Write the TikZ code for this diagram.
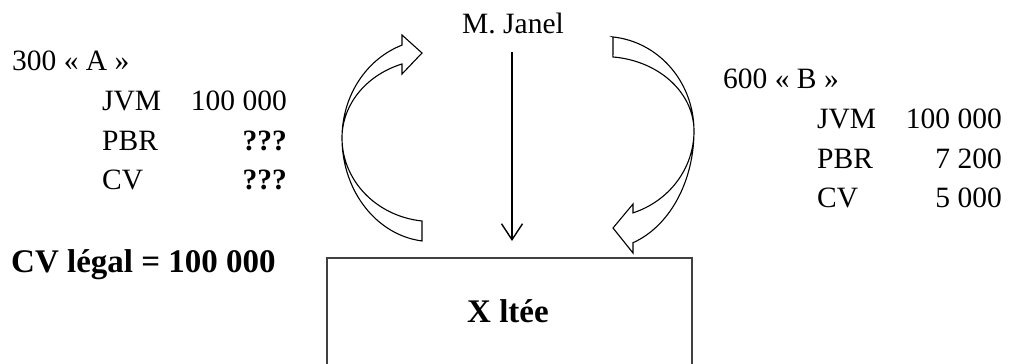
\documentclass[tikz,border=0pt]{standalone}
\usepackage{fontspec}
\setmainfont{Liberation Serif}
\usetikzlibrary{arrows.meta}
\begin{document}
\begin{tikzpicture}[x=1pt,y=-1pt,
  txt/.style={inner sep=0pt,font=\fontsize{29.5}{35}\selectfont},
  bigtxt/.style={inner sep=0pt,font=\fontsize{33}{38}\selectfont\bfseries},
  lft/.style={txt,anchor=base west},
  rgt/.style={txt,anchor=base east},
  bigarrow/.style={draw=black,line width=1.1pt,line join=miter,fill=white},
  framebox/.style={draw=black!75,line width=1.5pt}]
\useasboundingbox (0,0) rectangle (1010,364);
% left block
\node[lft] (a) at (12,70) {300 « A »};
\node[lft] (ajvm) at (102,110) {JVM};
\node[rgt] (ajvmv) at (287,110) {100 000};
\node[lft] (apbr) at (102,150) {PBR};
\node[rgt] (apbrv) at (287,150) {\bfseries ???};
\node[lft] (acv) at (102,189) {CV};
\node[rgt] (acvv) at (287,189) {\bfseries ???};
\node[bigtxt,anchor=base west] (legal) at (11,272) {CV légal = 100 000};
% right block
\node[lft] (b) at (723,88) {600 « B »};
\node[lft] (bjvm) at (817,128) {JVM};
\node[rgt] (bjvmv) at (1002,128) {100 000};
\node[lft] (bpbr) at (817,168) {PBR};
\node[rgt] (bpbrv) at (1002,168) {7 200};
\node[lft] (bcv) at (817,207) {CV};
\node[rgt] (bcvv) at (1002,207) {5 000};
% top
\node[lft] (janel) at (462,33) {M. Janel};
\coordinate (vstart) at (512,52);
\coordinate (vend) at (512,241);
\draw[line width=1.4pt,-{Straight Barb[length=16pt,width=21pt,line width=1.4pt]}] (vstart) -- (vend);
% box
\node[minimum width=365pt,minimum height=125pt,anchor=north,inner sep=0pt] (box) at (509.5,258) {};
\draw[framebox] (box.south west) |- (box.north east) -- (box.south east);
\node[bigtxt,anchor=base] (xltee) at (508,322) {X ltée};
% left curved arrow
\draw[bigarrow] (422,53) -- (402,35) -- (402,45)
  -- plot[domain=250.5:180,samples=40] ({432+90*cos(\x)},{138+98.5*sin(\x)})
  -- plot[domain=180:96.4,samples=40] ({432+90*cos(\x)},{138+103.6*sin(\x)})
  -- (422,221)
  -- plot[domain=96.4:180,samples=40] ({432+90*cos(\x)},{138+83.5*sin(\x)})
  -- plot[domain=180:250.5,samples=40] ({432+90*cos(\x)},{138+78.5*sin(\x)})
  -- (402,74) -- cycle;
% right curved arrow
\draw[bigarrow] (613,37)
  -- plot[domain=-84.3:0,samples=40] ({604+90*cos(\x)},{131+94.5*sin(\x)})
  -- plot[domain=0:71.2,samples=40] ({604+90*cos(\x)},{131+118*sin(\x)})
  -- (633,253) -- (613,228) -- (633,204)
  -- plot[domain=71.2:0,samples=40] ({604+90*cos(\x)},{131+86.5*sin(\x)})
  -- plot[domain=0:-84.3,samples=40] ({604+90*cos(\x)},{131+74.4*sin(\x)})
  -- cycle;
\end{tikzpicture}
\end{document}
